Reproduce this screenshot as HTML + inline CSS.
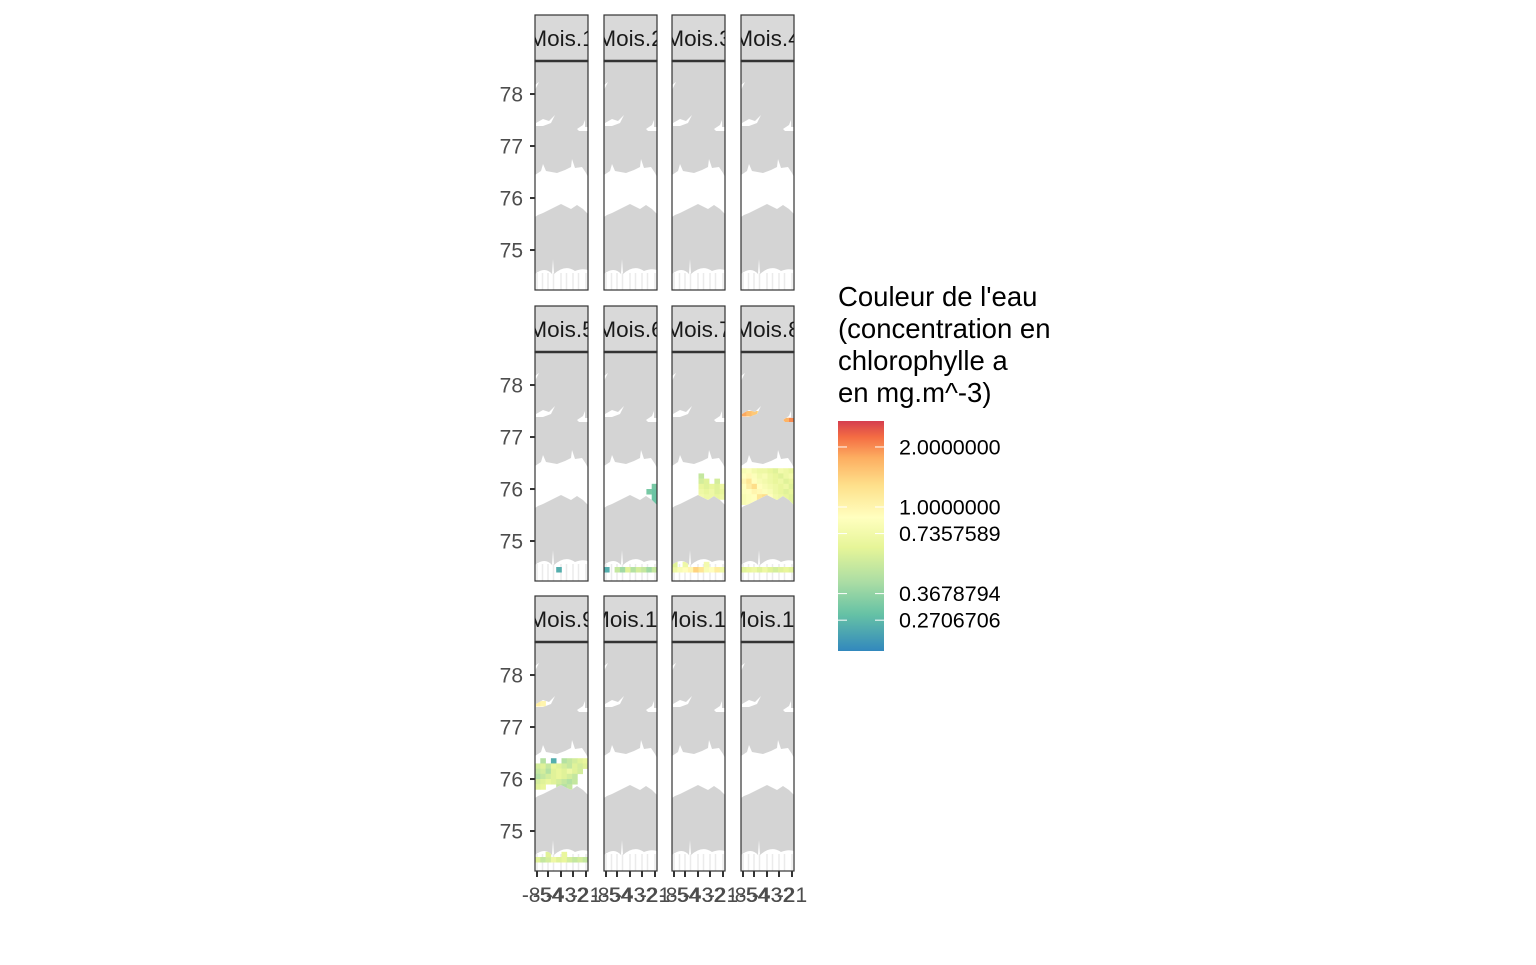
<!DOCTYPE html>
<html><head><meta charset="utf-8"><style>
body{margin:0;background:#fff;}
svg text{font-family:"Liberation Sans",sans-serif;}
</style></head><body>
<svg id="c" width="1536" height="960" xmlns="http://www.w3.org/2000/svg">
<defs>
<clipPath id="water"><path d="M0,114 L6,110 L8,103 L11,110 L22,112 L30,109 L36,106 L37,98 L40,107 L47,106 L51,112 L53,116 L53,153 L48,148 L42,144 L36,148 L32,146 L26,143 L20,146 L14,149 L8,152 L3,154 L0,156 Z M0,213 Q10,205 17,213 L18,198 L19,213 Q30,203 40,210 Q47,207 53,209 L53,229 L0,229 Z M1,62 L8,58 L14,60 L20,54 L16,62 L8,65 L1,65 Z M42,68 L48,64 L50,59 L50,66 L53,66 L53,70 L44,70 Z M0,24 L4,21 L0,29 Z"/></clipPath>
<linearGradient id="cb" x1="0" y1="1" x2="0" y2="0">
<stop offset="0" stop-color="#3288bd"/><stop offset="0.16" stop-color="#66c2a5"/><stop offset="0.3" stop-color="#abdda4"/><stop offset="0.45" stop-color="#e6f598"/><stop offset="0.58" stop-color="#ffffbf"/><stop offset="0.72" stop-color="#fee08b"/><stop offset="0.84" stop-color="#fdae61"/><stop offset="0.93" stop-color="#f46d43"/><stop offset="1" stop-color="#d53e4f"/>
</linearGradient>
</defs>
</svg>
<script>
const months=["Mois.1","Mois.2","Mois.3","Mois.4","Mois.5","Mois.6","Mois.7","Mois.8","Mois.9","Mois.10","Mois.11","Mois.12"];
const yTicks=[75,76,77,78];
const xTickLabels=["-85","-54","-43","-32","-21"];
const legendValues=[2.0,1.0,0.7357589,0.3678794,0.2706706];
const legendLabels=["2.0000000","1.0000000","0.7357589","0.3678794","0.2706706"];
// chlorophyll cells per month: [column 0-9, latitude, value mg.m^-3]
const cells5=[[4,74.45,0.25]];
const cells6=[[0,74.45,0.25],[2,74.45,0.5],[3,74.45,0.4],[4,74.45,0.6],[5,74.45,0.45],[6,74.45,0.55],[7,74.45,0.5],[8,74.45,0.4],[9,74.45,0.5],[9,75.85,0.3],[9,75.95,0.3],[9,76.05,0.32],[8,75.95,0.32],[9,75.75,0.3]];
const cells7=[[0,74.45,0.7],[1,74.45,0.8],[2,74.45,0.9],[3,74.45,1.0],[4,74.45,1.4],[5,74.45,1.2],[6,74.45,0.8],[7,74.45,0.9],[8,74.45,1.1],[9,74.45,0.7],[0,74.55,0.6],[2,74.55,0.7],[6,74.55,0.75],[5,76.25,0.5],[5,76.15,0.55],[6,76.15,0.6],[8,76.15,0.55],[5,76.05,0.65],[6,76.05,0.6],[7,76.05,0.65],[8,76.05,0.6],[9,76.05,0.7],[5,75.95,0.7],[6,75.95,0.65],[7,75.95,0.7],[8,75.95,0.6],[9,75.95,0.65],[5,75.85,0.75],[6,75.85,0.7],[7,75.85,0.7],[8,75.85,0.65],[9,75.85,0.7],[7,75.75,0.7],[8,75.75,0.75]];
const cells8=[[0,77.45,1.8],[1,77.45,1.6],[2,77.45,1.5],[3,77.45,1.3],[9,77.32,2.0],[8,77.32,1.7],
[0,76.35,0.8],[1,76.35,0.85],[2,76.35,0.75],[3,76.35,0.7],[4,76.35,0.7],[5,76.35,0.65],[6,76.35,0.6],[7,76.35,0.75],[8,76.35,0.7],[9,76.35,0.65],
[0,76.25,0.9],[1,76.25,0.95],[2,76.25,0.85],[3,76.25,0.75],[4,76.25,0.8],[5,76.25,0.7],[6,76.25,0.65],[7,76.25,0.6],[8,76.25,0.7],[9,76.25,0.75],
[0,76.15,1.0],[1,76.15,1.2],[2,76.15,0.9],[3,76.15,0.8],[4,76.15,0.75],[5,76.15,0.7],[6,76.15,0.65],[7,76.15,0.7],[8,76.15,0.6],[9,76.15,0.65],
[0,76.05,0.9],[1,76.05,1.1],[2,76.05,1.3],[3,76.05,0.9],[4,76.05,0.8],[5,76.05,0.75],[6,76.05,0.7],[7,76.05,0.65],[8,76.05,0.7],[9,76.05,0.6],
[0,75.95,0.85],[1,75.95,0.9],[2,75.95,1.0],[3,75.95,0.95],[4,75.95,0.85],[5,75.95,0.8],[6,75.95,0.7],[7,75.95,0.65],[8,75.95,0.6],[9,75.95,0.65],
[0,75.85,0.8],[1,75.85,0.85],[2,75.85,0.9],[3,75.85,1.2],[4,75.85,1.3],[5,75.85,0.9],[6,75.85,0.75],[7,75.85,0.7],[8,75.85,0.65],[9,75.85,0.6],
[0,75.75,0.8],[1,75.75,0.85],[2,75.75,0.9],[3,75.75,1.2],[4,75.75,1.1],[5,75.75,0.85],[6,75.75,0.75],[7,75.75,0.7],[8,75.75,0.65],[9,75.75,0.6],
[0,74.45,0.6],[1,74.45,0.65],[2,74.45,0.7],[3,74.45,0.6],[4,74.45,0.7],[5,74.45,0.6],[6,74.45,0.55],[7,74.45,0.6],[8,74.45,0.65],[9,74.45,0.6]];
const cells9=[[0,77.45,1.1],[1,77.45,1.0],
[1,76.35,0.45],[3,76.35,0.25],[5,76.35,0.45],[6,76.35,0.5],[7,76.35,0.55],[8,76.35,0.6],[9,76.35,0.65],
[0,76.25,0.55],[1,76.25,0.6],[2,76.25,0.5],[3,76.25,0.65],[4,76.25,0.6],[5,76.25,0.55],[6,76.25,0.5],[7,76.25,0.6],[8,76.25,0.55],[9,76.25,0.6],
[0,76.15,0.5],[1,76.15,0.55],[2,76.15,0.45],[3,76.15,0.6],[4,76.15,0.65],[5,76.15,0.6],[6,76.15,0.7],[7,76.15,0.6],[8,76.15,0.55],
[0,76.05,0.45],[1,76.05,0.5],[2,76.05,0.55],[3,76.05,0.6],[4,76.05,0.65],[5,76.05,0.6],[6,76.05,0.55],[7,76.05,0.5],
[0,75.95,0.55],[1,75.95,0.6],[2,75.95,0.65],[3,75.95,0.6],[4,75.95,0.55],[5,75.95,0.5],[6,75.95,0.45],[7,75.95,0.5],
[0,75.85,0.6],[1,75.85,0.65],[4,75.85,0.5],[5,75.85,0.45],[6,75.85,0.5],
[0,74.45,0.6],[1,74.45,0.5],[2,74.45,0.55],[3,74.45,0.7],[4,74.45,0.6],[5,74.45,0.65],[6,74.45,0.55],[7,74.45,0.5],[8,74.45,0.55],[9,74.45,0.5],[2,74.55,0.6],[5,74.55,0.65]];
const monthCells={5:cells5,6:cells6,7:cells7,8:cells8,9:cells9};

const NS="http://www.w3.org/2000/svg";
const svg=document.getElementById('c');
function mk(tag,attrs,parent){const e=document.createElementNS(NS,tag);for(const k in attrs)e.setAttribute(k,attrs[k]);(parent||svg).appendChild(e);return e;}
const colX=[535,604,672,741], PW=53;
const rowTop=[61,352,642], PH=229, STRIP=46;
const latTop=78.635, pxPerLat=52;
function yScale(lat){return (latTop-lat)*pxPerLat;}
const colW=PW/10;
const cStops=[[-1.66,"#3288bd"],[-1.24,"#66c2a5"],[-0.86,"#abdda4"],[-0.47,"#e6f598"],[-0.12,"#ffffbf"],[0.25,"#fee08b"],[0.57,"#fdae61"],[0.80,"#f46d43"],[0.99,"#d53e4f"]];
function hex(h){return [1,3,5].map(i=>parseInt(h.substr(i,2),16));}
function color(v){const l=Math.log(v);if(l<=cStops[0][0])return cStops[0][1];
for(let i=1;i<cStops.length;i++){if(l<=cStops[i][0]){const a=cStops[i-1],b=cStops[i];const t=(l-a[0])/(b[0]-a[0]);const ca=hex(a[1]),cb=hex(b[1]);return 'rgb('+ca.map((c,j)=>Math.round(c+(cb[j]-c)*t)).join(',')+')';}}
return cStops[cStops.length-1][1];}
const tickRel=[2,13,26,38,51];

months.forEach((m,i)=>{
  const r=Math.floor(i/4),c=i%4,x0=colX[c],y0=rowTop[r];
  const strip=mk('g',{});
  
  
  mk('rect',{x:x0,y:y0-STRIP,width:PW,height:STRIP,fill:'#d9d9d9',stroke:'#333','stroke-width':1.2},strip);
  const cp=mk('clipPath',{id:'sc'+i},strip);mk('rect',{x:x0,y:y0-STRIP,width:PW,height:STRIP},cp);
  const t=mk('text',{x:x0+PW/2,y:y0-15,'text-anchor':'middle','font-size':22.5,fill:'#1a1a1a','clip-path':'url(#sc'+i+')'},strip);t.textContent=m;
  const p=mk('g',{transform:'translate('+x0+','+y0+')'});
  
  
  mk('rect',{x:0,y:0,width:PW,height:PH,fill:'#d4d4d4'},p);
  const w=mk('g',{'clip-path':'url(#water)'},p);
  mk('rect',{x:0,y:0,width:PW,height:PH,fill:'#fff'},w);
  tickRel.forEach(tx=>{mk('line',{x1:tx,x2:tx,y1:212,y2:229,stroke:'#ebebeb','stroke-width':1.5},w);
    mk('line',{x1:tx+5.5,x2:tx+5.5,y1:212,y2:229,stroke:'#ebebeb','stroke-width':1.5},w);});
  const cl=monthCells[i+1]||[];
  cl.forEach(d=>{const rc=mk('rect',{x:d[0]*colW,y:yScale(d[1]+0.05),width:colW+0.3,height:0.1*pxPerLat+0.3,fill:color(d[2])},w);
    
    });
  mk('rect',{x:0,y:0,width:PW,height:PH,fill:'none',stroke:'#333','stroke-width':1.2},p);
  mk('line',{x1:0,x2:PW,y1:0,y2:0,stroke:'#333','stroke-width':2.5},p);
  if(c===0){yTicks.forEach(v=>{const yy=y0+yScale(v);
    mk('line',{x1:x0-5,x2:x0,y1:yy,y2:yy,stroke:'#333','stroke-width':2});
    const tt=mk('text',{x:x0-12,y:yy+7.5,'text-anchor':'end','font-size':21,fill:'#4d4d4d'});tt.textContent=v;
    
    });}
  if(r===2){tickRel.forEach((tx,k)=>{mk('line',{x1:x0+tx,x2:x0+tx,y1:y0+PH,y2:y0+PH+6,stroke:'#333','stroke-width':2});
    const tt=mk('text',{x:x0+tx,y:y0+PH+31,'text-anchor':'middle','font-size':21,fill:'#4d4d4d'});tt.textContent=xTickLabels[k];
    
    });}
});
// legend
const lg=mk('g',{});


["Couleur de l'eau","(concentration en","chlorophylle a","en mg.m^-3)"].forEach((s,k)=>{const t=mk('text',{x:838,y:306+k*32,'font-size':27.5,fill:'#000'},lg);t.textContent=s;});
mk('rect',{x:838,y:421,width:46,height:230,fill:'url(#cb)'},lg);
function lgY(v){return 507-Math.log(v)*86.6;}
legendValues.forEach((v,k)=>{const y=lgY(v);
  mk('line',{x1:838,x2:847,y1:y,y2:y,stroke:'#fff','stroke-width':1},lg);
  mk('line',{x1:875,x2:884,y1:y,y2:y,stroke:'#fff','stroke-width':1},lg);
  const t=mk('text',{x:899,y:y+7.5,'font-size':21.5,fill:'#000'},lg);t.textContent=legendLabels[k];
  
  });
</script>
</body></html>
